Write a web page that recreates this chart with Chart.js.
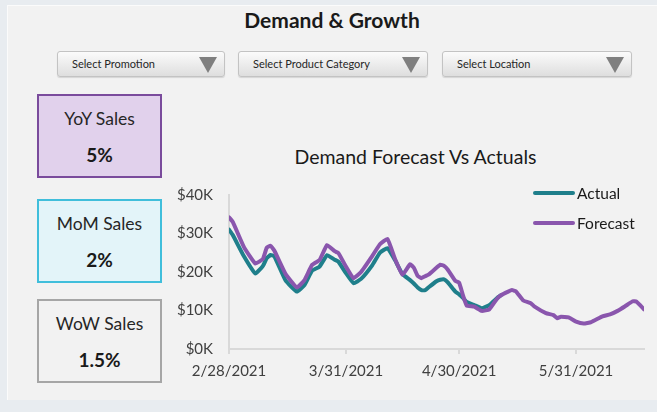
<!DOCTYPE html>
<html lang="en">
<head>
<meta charset="UTF-8">
<title>Demand & Growth</title>
<script src="https://cdn.jsdelivr.net/npm/chart.js"></script>
<style>
  * { margin: 0; padding: 0; box-sizing: border-box; }
  body { width: 657px; height: 412px; overflow: hidden; background: #e8ecf0; font-family: 'Lato', 'Open Sans', sans-serif; color: #262626; position: relative; }
  .panel { position: absolute; left: 7px; top: 5px; width: 650px; height: 395px; background: #f2f2f2; border-top: 1px solid #fbfbfb; border-left: 1px solid #fbfbfb; }
  .heading { position: absolute; left: 0; width: 664px; top: 7px; text-align: center; font-size: 21px; font-weight: bold; color: #1a1a1a; }
  .dropdown { position: absolute; top: 51px; height: 26px; border: 1px solid #c3c3c3; border-radius: 3px; background: linear-gradient(#fbfbfb, #dedede); box-shadow: 0 1px 1px rgba(0,0,0,0.12); font-size: 11px; line-height: 24px; padding-left: 14px; color: #262626; }
  .dropdown .arrow { position: absolute; right: 7px; top: 5px; width: 0; height: 0; border-left: 9px solid transparent; border-right: 9px solid transparent; border-top: 16px solid #7f7f7f; }
  .kpi { position: absolute; left: 37px; width: 125px; height: 84px; border: 2px solid; text-align: center; }
  .kpi .name { position: absolute; left: 0; right: 0; top: 12px; font-size: 17.5px; }
  .kpi .val { position: absolute; left: 0; right: 0; top: 47px; font-size: 19px; font-weight: bold; color: #1a1a1a; }
  .yoy { top: 94px; border-color: #7a4b9c; background: #e1d1ec; }
  .mom { top: 199px; border-color: #40bedb; background: #e3f4f9; }
  .wow { top: 299px; border-color: #a6a6a6; background: #f2f2f2; }
  .chart-title { position: absolute; left: 175px; width: 481px; top: 145px; text-align: center; font-size: 19.5px; color: #1a1a1a; }
  .chart-box { position: absolute; left: 175px; top: 140px; width: 481px; height: 250px; }
</style>
</head>
<body>
<div class="panel"></div>
<div class="heading">Demand &amp; Growth</div>

<div class="dropdown" style="left:57px; width:168px;">Select Promotion<span class="arrow"></span></div>
<div class="dropdown" style="left:238px; width:190px;">Select Product Category<span class="arrow"></span></div>
<div class="dropdown" style="left:442px; width:190px;">Select Location<span class="arrow"></span></div>

<div class="kpi yoy"><div class="name">YoY Sales</div><div class="val">5%</div></div>
<div class="kpi mom"><div class="name">MoM Sales</div><div class="val">2%</div></div>
<div class="kpi wow"><div class="name">WoW Sales</div><div class="val">1.5%</div></div>

<div class="chart-title">Demand Forecast Vs Actuals</div>
<div class="chart-box"><canvas id="demandChart"></canvas></div>

<script>
// dates of the plotted points
const dates = [
  '2021-02-28', '2021-03-01', '2021-03-04', '2021-03-07', '2021-03-09', '2021-03-10', '2021-03-11', '2021-03-12',
  '2021-03-15', '2021-03-18', '2021-03-20', '2021-03-22', '2021-03-24', '2021-03-26', '2021-03-28', '2021-03-29',
  '2021-03-31', '2021-04-02', '2021-04-04', '2021-04-07', '2021-04-09', '2021-04-11', '2021-04-13', '2021-04-15',
  '2021-04-17', '2021-04-18', '2021-04-19', '2021-04-20', '2021-04-21', '2021-04-22', '2021-04-24', '2021-04-25',
  '2021-04-26', '2021-04-27', '2021-04-29', '2021-04-30', '2021-05-01', '2021-05-02', '2021-05-04', '2021-05-06',
  '2021-05-08', '2021-05-10', '2021-05-11', '2021-05-13', '2021-05-14', '2021-05-15', '2021-05-17', '2021-05-19',
  '2021-05-20', '2021-05-23', '2021-05-25', '2021-05-26', '2021-05-27', '2021-05-29', '2021-05-31', '2021-06-02',
  '2021-06-04', '2021-06-07', '2021-06-09', '2021-06-11', '2021-06-13', '2021-06-15', '2021-06-16', '2021-06-18'
];

const actual = [
  31000, 29600, 24000, 19600, 21600, 23600, 24400, 24100,
  17800, 14900, 16600, 20300, 21400, 24400, 23200, 22700,
  19700, 17100, 18200, 21800, 25000, 26200, 23100, 19400,
  17900, 17000, 16000, 15300, 15300, 16100, 17600, 18000,
  18100, 17300, 14900, 14200, 13300, 12200, 11400, 10600,
  11400, 13200, 13900, null, null, null, null, null,
  null, null, null, null, null, null, null, null,
  null, null, null, null, null, null, null, null
];

const forecast = [
  34200, 33000, 26400, 22200, 23400, 26300, 26800, 25600,
  19500, 16000, 17900, 21800, 23100, 27000, 25400, 24900,
  21400, 18400, 20000, 24200, 27200, 28600, 23400, 19300,
  22000, 21100, 19000, 18400, 18900, 19400, 21100, 21900,
  21600, 20600, 17700, 17200, 14000, 11300, 11000, 9900,
  10300, 13000, 13900, 14900, 15300, 15000, 12600, 11900,
  11000, 9300, 8800, 8000, 8400, 8200, 7100, 6600,
  7000, 8500, 9000, 9900, 11100, 12400, 12300, 10300
];

const xTickLabels = ['2/28/2021', '3/31/2021', '4/30/2021', '5/31/2021'];
const yTicks = [0, 10000, 20000, 30000, 40000];

const DAY = 86400000;
const start = Date.parse(dates[0]);
const dayOf = ms => Math.round((ms - start) / DAY);
const xs = dates.map(d => dayOf(Date.parse(d)));
const tickDays = xTickLabels.map(t => {
  const [m, d, y] = t.split('/').map(Number);
  return dayOf(Date.UTC(y, m - 1, d));
});

const pts = vals => vals.map((v, i) => ({ x: xs[i], y: v }));
const font = { family: 'Lato', size: 15 };

// legend drawn top right inside the plot, lines run underneath it
const cornerLegend = {
  id: 'cornerLegend',
  afterDraw(chart) {
    const { ctx, chartArea } = chart;
    ctx.save();
    ctx.font = '15.5px Lato';
    ctx.fillStyle = '#1a1a1a';
    ctx.textBaseline = 'middle';
    chart.data.datasets.forEach((ds, i) => {
      const y = chartArea.top - 2 + i * 30;
      const x0 = chartArea.right - 109;
      ctx.strokeStyle = ds.borderColor;
      ctx.lineWidth = 4;
      ctx.lineCap = 'round';
      ctx.beginPath();
      ctx.moveTo(x0, y);
      ctx.lineTo(x0 + 38, y);
      ctx.stroke();
      ctx.fillText(ds.label, x0 + 42, y + 1);
    });
    ctx.restore();
  }
};

new Chart(document.getElementById('demandChart'), {
  type: 'line',
  data: {
    datasets: [
      { label: 'Actual', data: pts(actual), borderColor: '#1f7f8b', borderWidth: 4, pointRadius: 0, tension: 0.12, order: 1, borderCapStyle: 'round', borderJoinStyle: 'round' },
      { label: 'Forecast', data: pts(forecast), borderColor: '#8a56ad', borderWidth: 4, pointRadius: 0, tension: 0.12, order: 0, borderCapStyle: 'round', borderJoinStyle: 'round' }
    ]
  },
  options: {
    responsive: true,
    maintainAspectRatio: false,
    animation: false,
    layout: { padding: { left: 0, right: 12, top: 55, bottom: 0 } },
    plugins: {
      legend: { display: false },
      tooltip: { enabled: false },
      title: { display: false }
    },
    scales: {
      x: {
        type: 'linear',
        min: xs[0],
        max: xs[xs.length - 1],
        afterBuildTicks: axis => { axis.ticks = tickDays.map(v => ({ value: v })); },
        afterFit: scale => { scale.height = 41; },
        border: { color: '#d9d9d9', width: 2 },
        grid: { drawOnChartArea: false, drawTicks: true, tickLength: 5, color: '#d9d9d9', lineWidth: 2 },
        ticks: { font, color: '#404040', padding: 8, maxRotation: 0, autoSkip: false, callback: v => xTickLabels[tickDays.indexOf(v)] }
      },
      y: {
        min: yTicks[0],
        max: yTicks[yTicks.length - 1],
        afterBuildTicks: axis => { axis.ticks = yTicks.map(v => ({ value: v })); },
        afterFit: scale => { scale.width = 54; },
        border: { color: '#d9d9d9', width: 2 },
        grid: { display: false, drawTicks: false },
        ticks: { font, color: '#404040', padding: 16, callback: v => '$' + v / 1000 + 'K' }
      }
    }
  },
  plugins: [cornerLegend]
});
</script>
</body>
</html>
